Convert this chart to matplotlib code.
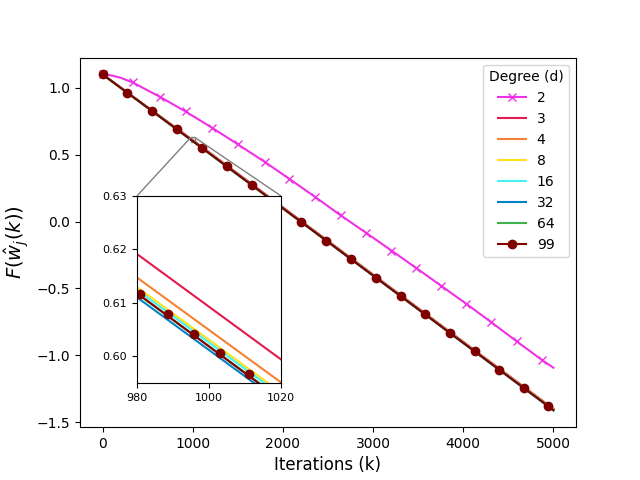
import numpy as np
import matplotlib
matplotlib.use("Agg")
import matplotlib.pyplot as plt
from mpl_toolkits.axes_grid1.inset_locator import mark_inset

# degree 2 (read at the cross markers, plus two points for the rounded start)
k_d2 = [0, 100, 200, 333, 632, 920, 1212, 1500, 1796, 2073, 2361, 2639,
        2919, 3204, 3481, 3758, 4035, 4313, 4593, 4870, 5000]
f_d2 = [1.100, 1.092, 1.075, 1.040, 0.934, 0.823, 0.702, 0.577, 0.447, 0.318,
        0.182, 0.047, -0.083, -0.217, -0.349, -0.482, -0.616, -0.754, -0.896,
        -1.034, -1.093]
marks_d2 = [0, 333, 632, 920, 1212, 1500, 1796, 2073, 2361, 2639, 2919, 3204,
            3481, 3758, 4035, 4313, 4593, 4870]

# degrees 3..64 (nearly on top of each other, split only in the zoom)
k_grid = [0, 980, 1020, 2000, 3000, 4000, 5000]
f_d3 = [1.100, 0.6191, 0.5994, 0.1063, -0.3960, -0.8990, -1.4000]
f_d4 = [1.100, 0.6147, 0.5951, 0.1020, -0.4000, -0.9030, -1.4040]
f_d8 = [1.100, 0.6129, 0.5932, 0.1000, -0.4020, -0.9050, -1.4060]
f_d16 = [1.100, 0.6124, 0.5927, 0.0995, -0.4025, -0.9055, -1.4070]
f_d32 = [1.100, 0.6110, 0.5913, 0.0980, -0.4045, -0.9085, -1.4120]
f_d64 = [1.100, 0.6117, 0.5920, 0.0988, -0.4035, -0.9070, -1.4100]

# degree 99 (read at the dot markers)
k_d99 = [0, 275, 550, 825, 1100, 1378, 1655, 1925, 2200, 2480, 2755, 3030,
         3305, 3575, 3850, 4128, 4400, 4675, 4945, 5000]
f_d99 = [1.100, 0.963, 0.826, 0.689, 0.552, 0.412, 0.273, 0.137, -0.002,
         -0.142, -0.281, -0.419, -0.557, -0.693, -0.832, -0.971, -1.108,
         -1.246, -1.382, -1.410]

# dot markers of degree 99 inside the zoom window
k_zoom99 = [980.8, 988.5, 995.8, 1003.2, 1011.0, 1018.5]
f_zoom99 = [0.6116, 0.6078, 0.6042, 0.6006, 0.5967, 0.5931]

degrees = ['2', '3', '4', '8', '16', '32', '64', '99']
colors = ['#f032e6', '#e6194b', '#f58231', '#ffe119', '#46f0f0', '#0082c8',
          '#3cb44b', '#800000']

fig, ax = plt.subplots(figsize=(6.4, 4.8), dpi=100)

mk2 = list(np.nonzero(np.isin(k_d2, marks_d2))[0])
ax.plot(k_d2, f_d2, color=colors[0], marker='x', markevery=mk2, label=degrees[0])
others = [f_d3, f_d4, f_d8, f_d16, f_d32, f_d64]
for f, c, d in zip(others, colors[1:7], degrees[1:7]):
    ax.plot(k_grid, f, color=c, label=d)
ax.plot(k_d99, f_d99, color=colors[7], marker='o',
        markevery=list(range(len(k_d99) - 1)), label=degrees[7])

ax.set_xlabel('Iterations (k)', fontsize=12)
ax.set_ylabel(r'$F(\hat{w}_j(k))$', fontsize=14)
ax.legend(title='Degree (d)', loc='upper right')

axins = ax.inset_axes([0.115, 0.12, 0.29, 0.506])
for f, c in zip(others, colors[1:7]):
    axins.plot(k_grid, f, color=c)
axins.plot(k_d99, f_d99, color=colors[7])
axins.plot(k_zoom99, f_zoom99, color=colors[7], marker='o', ls='none')
axins.set_xlim(980, 1020)
axins.set_ylim(0.595, 0.63)
axins.set_xticks([980, 1000, 1020])
axins.set_yticks([0.60, 0.61, 0.62, 0.63])
axins.tick_params(labelsize=8)
mark_inset(ax, axins, loc1=2, loc2=1, fc='none', ec='0.5')

plt.savefig('out.png')
